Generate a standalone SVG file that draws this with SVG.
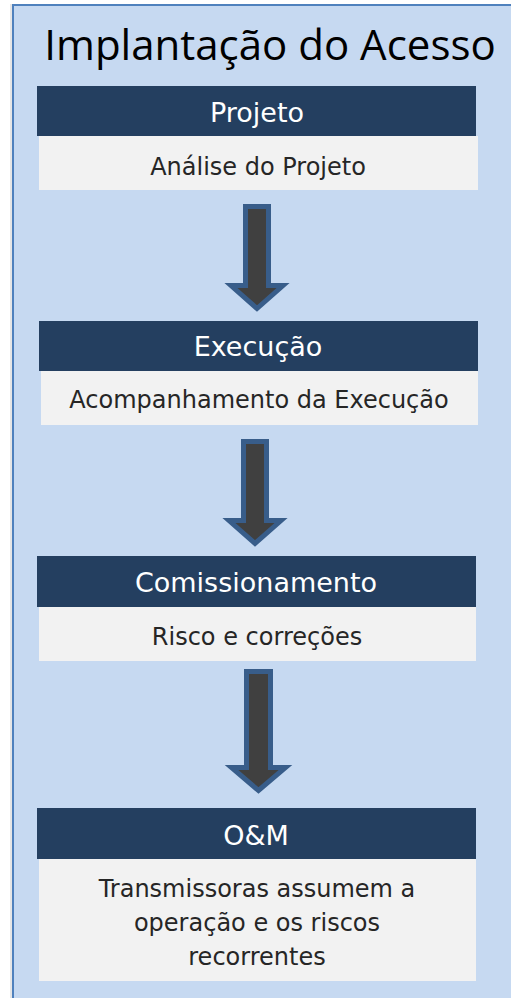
<svg xmlns="http://www.w3.org/2000/svg" width="511" height="998" viewBox="0 0 511 998">
<style>
.bg{fill:#ffffff}
.frame{fill:#c6d9f1;stroke:#4f81bd;stroke-width:2}
.hd{fill:#243f60}
.bd{fill:#f2f2f2}
.title{font-family:"Open Sans","Liberation Sans",sans-serif;font-size:42px;fill:#000;text-anchor:middle}
.ht{font-family:"DejaVu Sans",Verdana,sans-serif;font-size:27px;fill:#fff;text-anchor:middle}
.bt{font-family:"DejaVu Sans",Verdana,sans-serif;font-size:24px;fill:#262626;text-anchor:middle}
.arrow{fill:#404040;stroke:#385d8a;stroke-width:5;stroke-linejoin:miter}
</style>
<rect class="bg" x="0" y="0" width="511" height="998"/>
<rect x="10" y="4" width="2" height="994" fill="#e6e6e6"/>
<rect class="frame" x="13" y="5" width="520" height="1010"/>
<text class="title" x="270" y="60">Implantação do Acesso</text>

<g id="projeto">
<rect class="hd" x="37" y="86" width="439" height="50"/>
<rect class="bd" x="39" y="136" width="439" height="54"/>
<text class="ht" x="257" y="122">Projeto</text>
<text class="bt" x="258" y="175">Análise do Projeto</text>
</g>

<g id="execucao">
<rect class="hd" x="39" y="321" width="439" height="50"/>
<rect class="bd" x="41" y="371" width="437" height="54"/>
<text class="ht" x="258" y="356">Execução</text>
<text class="bt" x="259" y="408">Acompanhamento da Execução</text>
</g>

<g id="comissionamento">
<rect class="hd" x="37" y="556" width="439" height="51"/>
<rect class="bd" x="39" y="607" width="437" height="54"/>
<text class="ht" x="256" y="592">Comissionamento</text>
<text class="bt" x="257" y="645">Risco e correções</text>
</g>

<g id="om">
<rect class="hd" x="37" y="808" width="439" height="51"/>
<rect class="bd" x="39" y="859" width="437" height="122"/>
<text class="ht" x="256" y="845">O&amp;M</text>
<text class="bt" x="257" y="897">Transmissoras assumem a</text>
<text class="bt" x="257" y="931">operação e os riscos</text>
<text class="bt" x="257" y="965">recorrentes</text>
</g>

<g id="connectors">
<path class="arrow" d="M -11.5 0 H 11.5 V 79 H 26 L 0 102 L -26 79 H -11.5 Z" transform="translate(257,206.5)"/>
<path class="arrow" d="M -11.5 0 H 11.5 V 79 H 26 L 0 102 L -26 79 H -11.5 Z" transform="translate(255,441.5)"/>
<path class="arrow" d="M -12 0 H 12 V 96 H 27 L 0 119 L -27 96 H -12 Z" transform="translate(258.5,671.5)"/>
</g>
</svg>
